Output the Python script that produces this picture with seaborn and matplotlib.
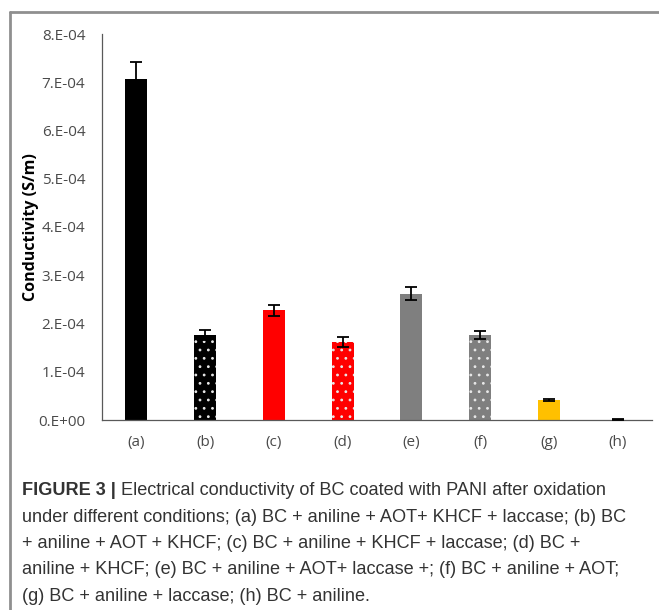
import matplotlib
matplotlib.use("Agg")
import matplotlib.pyplot as plt
from matplotlib.lines import Line2D
import seaborn as sns
import pandas as pd

categories = ["(a)", "(b)", "(c)", "(d)", "(e)", "(f)", "(g)", "(h)"]
values = [7.07e-4, 1.76e-4, 2.27e-4, 1.61e-4, 2.62e-4, 1.76e-4, 0.42e-4, 0.01e-4]
errors = [0.36e-4, 0.10e-4, 0.12e-4, 0.10e-4, 0.14e-4, 0.09e-4, 0.02e-4, 0.002e-4]
colors = ["#000000", "#000000", "#FF0000", "#FF0000", "#7F7F7F", "#7F7F7F", "#FFC000", "#9DC3E6"]
dotted = [False, True, False, True, False, True, False, False]
yticks = [0, 1e-4, 2e-4, 3e-4, 4e-4, 5e-4, 6e-4, 7e-4, 8e-4]
ytick_labels = ["0.E+00", "1.E-04", "2.E-04", "3.E-04", "4.E-04", "5.E-04", "6.E-04", "7.E-04", "8.E-04"]
caption_bold = "FIGURE 3 |"
caption_first = " Electrical conductivity of BC coated with PANI after oxidation"
caption_rest = [
    "under different conditions; (a) BC + aniline + AOT+ KHCF + laccase; (b) BC",
    "+ aniline + AOT + KHCF; (c) BC + aniline + KHCF + laccase; (d) BC +",
    "aniline + KHCF; (e) BC + aniline + AOT+ laccase +; (f) BC + aniline + AOT;",
    "(g) BC + aniline + laccase; (h) BC + aniline.",
]

sns.set_style("white")
plt.rcParams["hatch.linewidth"] = 0.8

df = pd.DataFrame({"cat": categories, "val": values})

W, H = 659, 610
fig = plt.figure(figsize=(W / 100, H / 100), dpi=100)
ax = fig.add_axes([102 / W, 1 - 420 / H, 550 / W, 386 / H])

sns.barplot(data=df, x="cat", y="val", hue="cat", palette=colors, legend=False,
            width=0.32, ax=ax, saturation=1, errorbar=None)

for patch, dot, c in zip(ax.patches, dotted, colors):
    patch.set_linewidth(0)
    if dot:
        patch.set_edgecolor("#e8e8e8")
        patch.set_hatch("..")
    else:
        patch.set_edgecolor(c)

ax.errorbar(range(len(categories)), values, yerr=errors, fmt="none",
            ecolor="black", elinewidth=1.3, capsize=4, capthick=1.3, zorder=5)

ax.set_xlim(-0.5, 7.5)
ax.set_ylim(0, 8e-4)
ax.set_yticks(yticks)
ax.set_yticklabels(ytick_labels)
ax.set_xlabel("")
ax.set_ylabel("Conductivity (S/m)", fontsize=11.5, fontweight="bold", family="Open Sans",
              color="black")
ax.yaxis.set_label_coords((39 - 102) / 550, 0.5)
ax.tick_params(axis="both", length=0, labelsize=11, labelcolor="#4a4a4a")
ax.tick_params(axis="y", pad=12)
ax.tick_params(axis="x", pad=11)
for lab in ax.get_xticklabels() + ax.get_yticklabels():
    lab.set_family("Open Sans")
for side in ["top", "right"]:
    ax.spines[side].set_visible(False)
for side in ["left", "bottom"]:
    ax.spines[side].set_color("#595959")
    ax.spines[side].set_linewidth(0.9)

# border lines
fig.add_artist(Line2D([10 / W, 1], [1 - 12 / H, 1 - 12 / H], color="#8f8f8f", lw=2, transform=fig.transFigure))
fig.add_artist(Line2D([10 / W, 10 / W], [1 - 12 / H, 0], color="#8f8f8f", lw=2, transform=fig.transFigure))

# caption
cap_font = dict(family="Liberation Sans", fontsize=13.1, color="#333333")
x0 = 22 / W
t_bold = fig.text(x0, 1 - 495 / H, caption_bold, fontweight="bold", va="baseline", **cap_font)
fig.canvas.draw()
bb = t_bold.get_window_extent(renderer=fig.canvas.get_renderer())
fig.text(bb.x1 / W, 1 - 495 / H, caption_first, va="baseline", **cap_font)
for i, line in enumerate(caption_rest):
    fig.text(x0, 1 - (495 + 26.5 * (i + 1)) / H, line, va="baseline", **cap_font)

fig.savefig("out.png", dpi=100)
